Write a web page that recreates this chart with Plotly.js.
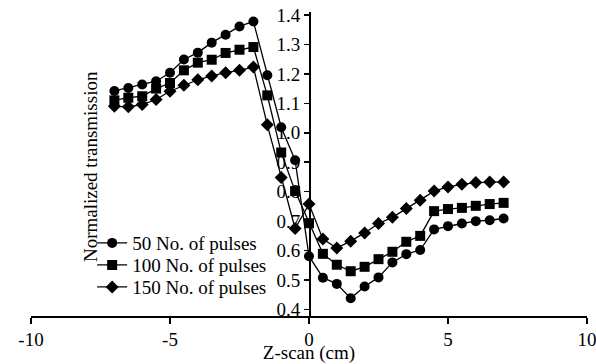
<!DOCTYPE html>
<html>
<head>
<meta charset="utf-8">
<script src="https://cdn.plot.ly/plotly-3.0.1.min.js"></script>
<style>
html,body{margin:0;padding:0;background:#fff;}
#chart{width:596px;height:364px;}
#warm{position:absolute;left:-5000px;top:0;font-family:"Times New Roman",serif;font-size:19px;}
</style>
</head>
<body>
<div id="warm">Z-scan (cm) Normalized transmission 0123456789 No. of pulses</div>
<div id="chart"></div>
<script>
const zScan = [-7,-6.5,-6,-5.5,-5,-4.5,-4,-3.5,-3,-2.5,-2,-1.5,-1,-0.5,0,0.5,1,1.5,2,2.5,3,3.5,4,4.5,5,5.5,6,6.5,7];
const pulses50 = [1.142,1.152,1.164,1.175,1.204,1.249,1.272,1.306,1.333,1.361,1.378,1.195,1.019,0.907,0.581,0.508,0.487,0.438,0.478,0.509,0.560,0.588,0.602,0.672,0.683,0.692,0.700,0.703,0.709];
const pulses100 = [1.110,1.119,1.124,1.150,1.169,1.212,1.238,1.248,1.271,1.282,1.291,1.127,0.933,0.802,0.693,0.589,0.552,0.530,0.545,0.571,0.596,0.630,0.650,0.734,0.741,0.745,0.752,0.758,0.762];
const pulses150 = [1.090,1.088,1.096,1.113,1.141,1.161,1.180,1.193,1.204,1.212,1.223,1.027,0.848,0.675,0.758,0.639,0.609,0.632,0.660,0.692,0.713,0.743,0.771,0.802,0.816,0.825,0.831,0.833,0.833];
const seriesNames = ['50 No. of pulses','100 No. of pulses','150 No. of pulses'];
const xTicks = [-10,-5,0,5,10];
const yTicks = [0.4,0.5,0.6,0.7,0.8,0.9,1.0,1.1,1.2,1.3,1.4];

const FAM = 'Times New Roman';
const mk = (y, name, sym, lg) => ({
  x: zScan, y: y, name: name, type: 'scatter', mode: 'lines+markers', legend: lg,
  line: {color: '#000', width: 1.3},
  marker: {symbol: sym, size: 10, color: '#000'}
});
const data = [
  mk(pulses50, seriesNames[0], 'circle', 'legend'),
  mk(pulses100, seriesNames[1], 'square', 'legend2'),
  mk(pulses150, seriesNames[2], 'diamond', 'legend3')
];
const lgd = (yy) => ({x: 0.11, y: yy, xanchor: 'left', yanchor: 'middle', bgcolor: 'rgba(0,0,0,0)',
  font: {family: FAM, size: 19, color: '#000'}, itemwidth: 30});
const layout = {
  width: 596, height: 364,
  margin: {l: 31, r: 9, t: 12, b: 48},
  paper_bgcolor: '#fff', plot_bgcolor: '#fff',
  font: {family: FAM, size: 19, color: '#000'},
  showlegend: true,
  legend: lgd(0.240), legend2: lgd(0.1675), legend3: lgd(0.0953),
  xaxis: {range: [-10, 10], tickvals: xTicks, ticktext: xTicks.map(String), ticklabeloverflow: 'allow',
          showline: true, linecolor: '#000', linewidth: 1.5, ticks: 'outside', ticklen: 6, tickwidth: 1.5, tickcolor: '#000',
          showgrid: false, zeroline: false, tickfont: {family: FAM, size: 19, color: '#000'},
          title: {text: 'Z-scan (cm)', font: {family: FAM, size: 19, color: '#000'}, standoff: 2}},
  yaxis: {range: [0.378, 1.41], tickvals: yTicks, ticktext: yTicks.map(v => v.toFixed(1)),
          anchor: 'free', position: 0.5,
          showline: true, linecolor: '#000', linewidth: 1.5, ticks: 'outside', ticklen: 5, tickwidth: 1.5, tickcolor: '#000',
          showgrid: false, zeroline: false, tickfont: {family: FAM, size: 19, color: '#000'}, title: {text: ''}},
  annotations: [{
    text: 'Normalized transmission', xref: 'paper', yref: 'paper', x: 0.106, y: 0.493,
    xanchor: 'center', yanchor: 'middle', textangle: -90, showarrow: false,
    font: {family: FAM, size: 19, color: '#000'}
  }]
};
const cfg = {displayModeBar: false, staticPlot: true};
Plotly.newPlot('chart', data, layout, cfg);
const redraw = () => { Plotly.purge('chart'); Plotly.newPlot('chart', data, layout, cfg); };
if (document.fonts && document.fonts.ready) { document.fonts.ready.then(redraw); }
setTimeout(redraw, 60);
</script>
</body>
</html>
